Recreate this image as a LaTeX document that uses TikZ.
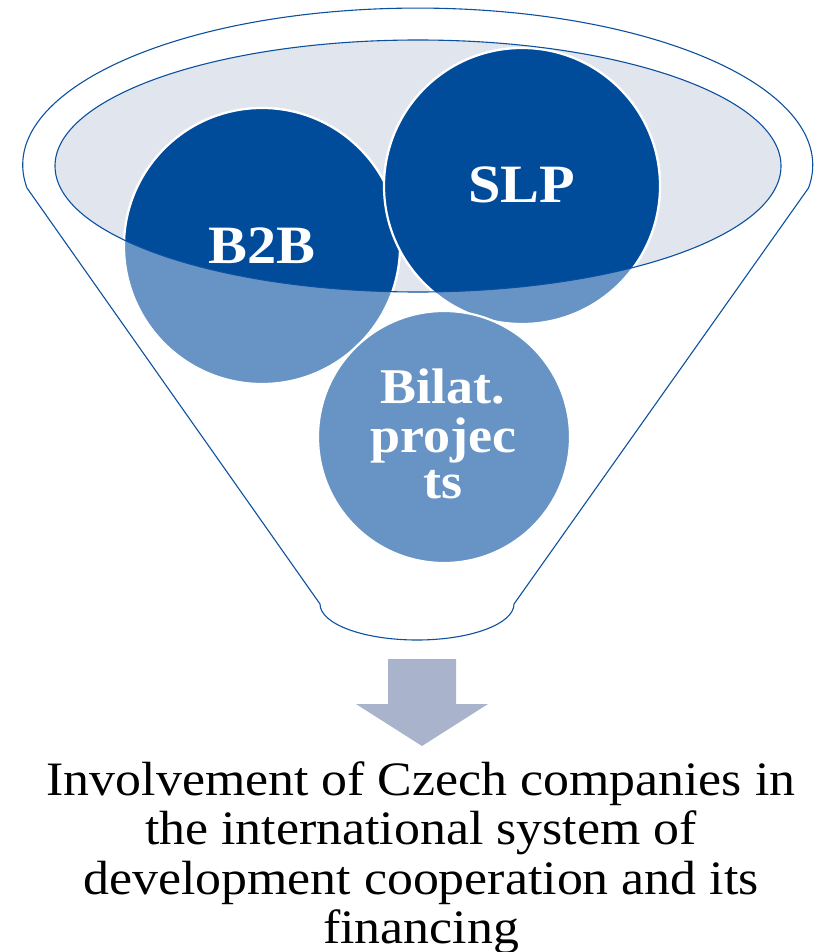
\documentclass[tikz,border=0pt]{standalone}
\usepackage{fontspec}
\setmainfont{Liberation Serif}[FakeStretch=1.08]
\definecolor{darkb}{RGB}{0,76,155}
\definecolor{lightb}{RGB}{103,148,196}
\definecolor{ellfill}{RGB}{225,229,238}
\definecolor{arrowc}{RGB}{169,179,204}
\definecolor{lineb}{RGB}{12,80,160}
\begin{document}
\begin{tikzpicture}[x=1pt,y=-1pt,
  outl/.style={draw=lineb, line width=1.1pt},
  lightcirc/.style={circle, fill=lightb, draw=white, line width=2.2pt, inner sep=0pt},
  darkcirc/.style={fill=darkb, draw=white, line width=2.2pt},
  bigtxt/.style={text=white, inner sep=0pt, anchor=base, font=\bfseries\fontsize{54}{54}\selectfont},
  midtxt/.style={text=white, inner sep=0pt, anchor=base, font=\bfseries\fontsize{50}{50}\selectfont},
  captxt/.style={text=black, inner sep=0pt, anchor=base, font=\fontsize{48}{49}\selectfont}]
\useasboundingbox (0,0) rectangle (822,952);
% outer funnel
\draw[outl] (320,604) -- (27,188)
  arc[start angle=188.4, end angle=-8.4, x radius=395pt, y radius=157pt]
  -- (514,604)
  arc[start angle=0, end angle=-180, x radius=97pt, y radius=36pt] -- cycle;
% inner ellipse fill
\fill[ellfill] (418,166) ellipse [x radius=363pt, y radius=126pt];
% circles (light parts)
\node[lightcirc, minimum size=276pt] (b2b) at (262,246) {};
\node[lightcirc, minimum size=276pt] (slp) at (522,186) {};
\node[lightcirc, minimum size=252pt] (bil) at (444,437) {};
% dark parts inside ellipse
\begin{scope}
  \clip (418,166) ellipse [x radius=363pt, y radius=126pt];
  \path[darkcirc] (262,246) circle [radius=138pt];
  \path[darkcirc] (522,186) circle [radius=138pt];
\end{scope}
% ellipse outline
\draw[outl] (418,166) ellipse [x radius=363pt, y radius=126pt];
% labels
\node[bigtxt] (tb2b) at (262,263) {B2B};
\node[bigtxt] (tslp) at (522,202) {SLP};
\node[midtxt] (tbil1) at (443,403) {Bilat.};
\node[midtxt] (tbil2) at (443,452) {projec};
\node[midtxt] (tbil3) at (443,498) {ts};
% arrow
\fill[arrowc] (388,659) -- (456,659) -- (456,704) -- (488,704) -- (422,746)
  -- (356,704) -- (388,704) -- cycle;
% caption
\node[captxt] (c1) at (421,795) {Involvement of Czech companies in};
\node[captxt] (c2) at (421,844) {the international system of};
\node[captxt] (c3) at (421,894) {development cooperation and its};
\node[captxt] (c4) at (421,943) {financing};
\end{tikzpicture}
\end{document}
